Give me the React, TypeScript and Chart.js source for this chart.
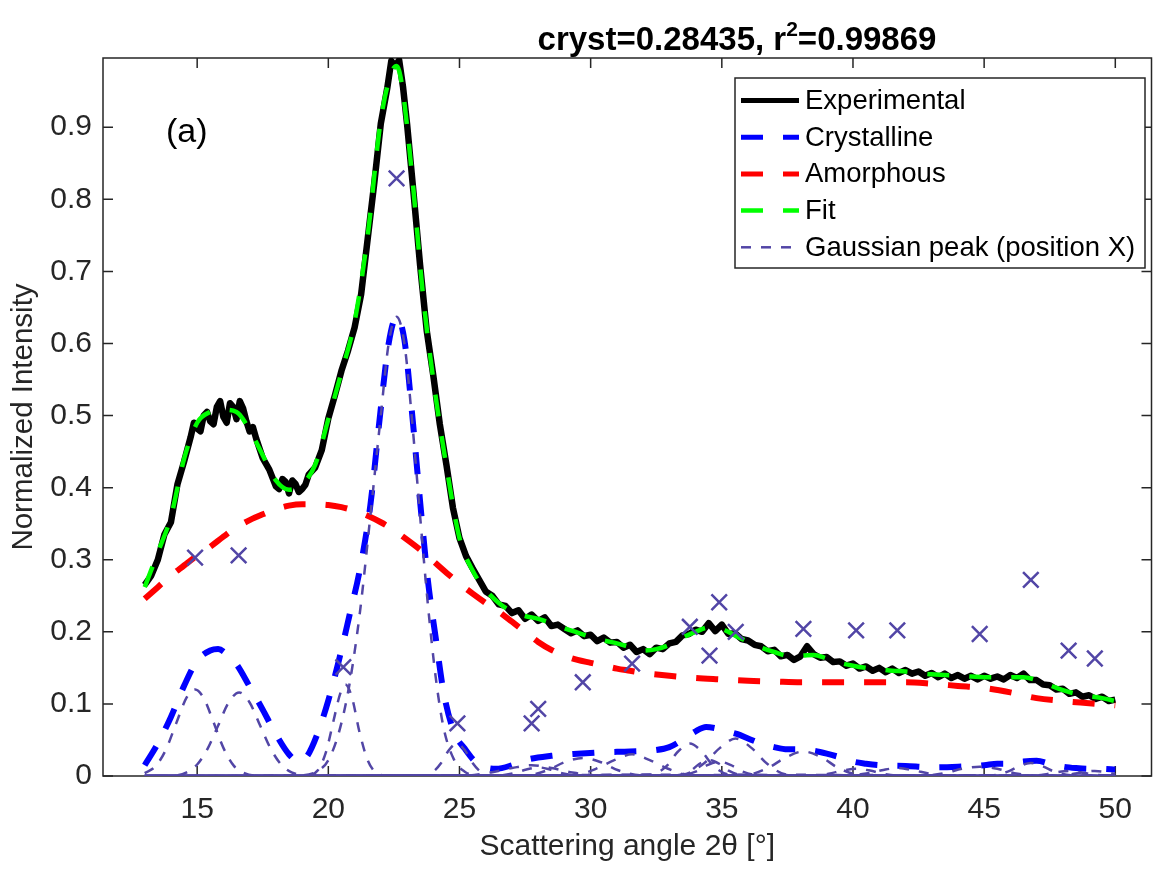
import React, { useEffect, useRef } from 'react';
import { Chart, registerables } from 'chart.js';

Chart.register(...registerables);

// ---------- data ----------
const xTickValues = [15, 20, 25, 30, 35, 40, 45, 50];
const yTickValues = [0, 0.1, 0.2, 0.3, 0.4, 0.5, 0.6, 0.7, 0.8, 0.9];
const xRange = [11.41, 51.38];
const yRange = [0, 0.996];

const titleParts = ['cryst=0.28435, r', '2', '=0.99869'];
const panelLabel = '(a)';
const xAxisTitle = 'Scattering angle 2θ [°]';
const yAxisTitle = 'Normalized Intensity';
const legendLabels = ['Experimental', 'Crystalline', 'Amorphous', 'Fit', 'Gaussian peak (position X)'];

const experimental: number[][] = [
  [13.0, 0.265], [13.25, 0.278], [13.5, 0.3], [13.75, 0.335], [14.0, 0.352], [14.25, 0.405], [14.5, 0.436],
  [14.75, 0.47], [14.875, 0.49], [15.0, 0.482], [15.125, 0.478], [15.25, 0.5], [15.375, 0.505], [15.5, 0.492],
  [15.625, 0.488], [15.75, 0.512], [15.875, 0.52], [16.0, 0.498], [16.125, 0.49], [16.25, 0.517], [16.375, 0.512],
  [16.5, 0.495], [16.625, 0.52], [16.75, 0.51], [16.875, 0.492], [17.0, 0.478], [17.125, 0.484], [17.25, 0.468],
  [17.5, 0.441], [17.75, 0.425], [18.0, 0.402], [18.125, 0.398], [18.25, 0.412], [18.375, 0.408], [18.5, 0.392],
  [18.625, 0.41], [18.75, 0.405], [18.875, 0.394], [19.0, 0.398], [19.125, 0.404], [19.25, 0.418], [19.5, 0.428],
  [19.75, 0.452], [20.0, 0.496], [20.25, 0.528], [20.5, 0.562], [20.75, 0.59], [21.0, 0.622], [21.25, 0.668],
  [21.5, 0.745], [21.75, 0.822], [22.0, 0.905], [22.25, 0.955], [22.4, 0.992], [22.55, 0.985], [22.7, 0.993],
  [22.85, 0.955], [23.0, 0.905], [23.25, 0.808], [23.5, 0.708], [23.75, 0.618], [24.0, 0.556], [24.25, 0.488],
  [24.5, 0.432], [24.75, 0.372], [25.0, 0.33], [25.25, 0.305], [25.5, 0.288], [25.75, 0.272], [26.0, 0.256],
  [26.25, 0.25], [26.5, 0.238], [26.75, 0.236], [27.0, 0.226], [27.25, 0.23], [27.5, 0.218], [27.75, 0.224],
  [28.0, 0.215], [28.25, 0.22], [28.5, 0.208], [28.75, 0.21], [29.0, 0.204], [29.25, 0.198], [29.5, 0.202],
  [29.75, 0.194], [30.0, 0.196], [30.25, 0.187], [30.5, 0.192], [30.75, 0.185], [31.0, 0.186], [31.25, 0.178],
  [31.5, 0.182], [31.75, 0.172], [32.0, 0.176], [32.25, 0.169], [32.5, 0.178], [32.75, 0.176], [33.0, 0.184],
  [33.25, 0.186], [33.5, 0.195], [33.75, 0.197], [34.0, 0.203], [34.25, 0.2], [34.5, 0.212], [34.75, 0.201],
  [35.0, 0.21], [35.25, 0.197], [35.5, 0.198], [35.75, 0.19], [36.0, 0.188], [36.25, 0.182], [36.5, 0.18],
  [36.75, 0.173], [37.0, 0.175], [37.25, 0.166], [37.5, 0.168], [37.75, 0.161], [38.0, 0.166], [38.25, 0.18],
  [38.5, 0.169], [38.75, 0.164], [39.0, 0.165], [39.25, 0.158], [39.5, 0.159], [39.75, 0.153], [40.0, 0.156],
  [40.25, 0.149], [40.5, 0.152], [40.75, 0.146], [41.0, 0.15], [41.25, 0.144], [41.5, 0.149], [41.75, 0.143],
  [42.0, 0.147], [42.25, 0.142], [42.5, 0.145], [42.75, 0.139], [43.0, 0.143], [43.25, 0.137], [43.5, 0.142],
  [43.75, 0.136], [44.0, 0.14], [44.25, 0.135], [44.5, 0.139], [44.75, 0.134], [45.0, 0.139], [45.25, 0.135],
  [45.5, 0.138], [45.75, 0.134], [46.0, 0.14], [46.25, 0.136], [46.5, 0.142], [46.75, 0.133], [47.0, 0.133],
  [47.25, 0.127], [47.5, 0.126], [47.75, 0.12], [48.0, 0.121], [48.25, 0.114], [48.5, 0.116], [48.75, 0.11],
  [49.0, 0.112], [49.25, 0.107], [49.5, 0.11], [49.75, 0.104], [50.0, 0.106],
];

const fit: number[][] = [
  [13.0, 0.262], [13.5, 0.31], [14.0, 0.36], [14.5, 0.44], [15.0, 0.49], [15.5, 0.505], [16.0, 0.508],
  [16.5, 0.505], [17.0, 0.48], [17.5, 0.445], [18.0, 0.41], [18.5, 0.397], [19.0, 0.405], [19.5, 0.432],
  [20.0, 0.495], [20.5, 0.56], [21.0, 0.63], [21.5, 0.75], [22.0, 0.91], [22.4, 0.975], [22.6, 0.985],
  [22.8, 0.96], [23.2, 0.83], [23.6, 0.67], [24.0, 0.55], [24.5, 0.43], [25.0, 0.33], [25.5, 0.285],
  [26.0, 0.258], [26.5, 0.24], [27.0, 0.228], [27.5, 0.222], [28.0, 0.218], [28.5, 0.212], [29.0, 0.205],
  [29.5, 0.199], [30.0, 0.193], [30.5, 0.188], [31.0, 0.184], [31.5, 0.179], [32.0, 0.174], [32.5, 0.176],
  [33.0, 0.182], [33.5, 0.192], [34.0, 0.2], [34.5, 0.206], [35.0, 0.204], [35.5, 0.195], [36.0, 0.186],
  [36.5, 0.178], [37.0, 0.172], [37.5, 0.167], [38.0, 0.167], [38.5, 0.168], [39.0, 0.163], [39.5, 0.157],
  [40.0, 0.153], [40.5, 0.15], [41.0, 0.148], [41.5, 0.146], [42.0, 0.145], [42.5, 0.143], [43.0, 0.141],
  [43.5, 0.14], [44.0, 0.139], [44.5, 0.138], [45.0, 0.137], [45.5, 0.137], [46.0, 0.137], [46.5, 0.137],
  [47.0, 0.133], [47.5, 0.126], [48.0, 0.119], [48.5, 0.114], [49.0, 0.111], [49.5, 0.108], [50.0, 0.104],
];

const amorphous: number[][] = [
  [13.0, 0.246], [13.5, 0.262], [14.0, 0.278], [14.5, 0.292], [15.0, 0.306], [15.5, 0.318], [16.0, 0.332],
  [16.5, 0.345], [17.0, 0.355], [17.5, 0.363], [18.0, 0.37], [18.5, 0.375], [19.0, 0.377], [19.5, 0.377],
  [20.0, 0.376], [20.5, 0.373], [21.0, 0.368], [21.5, 0.361], [22.0, 0.352], [22.5, 0.341], [23.0, 0.328],
  [23.5, 0.314], [24.0, 0.298], [24.5, 0.282], [25.0, 0.267], [25.5, 0.253], [26.0, 0.24], [26.5, 0.228],
  [27.0, 0.214], [27.5, 0.2], [28.0, 0.186], [28.5, 0.175], [29.0, 0.167], [29.5, 0.161], [30.0, 0.157],
  [30.5, 0.153], [31.0, 0.149], [31.5, 0.146], [32.0, 0.143], [33.0, 0.139], [34.0, 0.136], [35.0, 0.134],
  [36.0, 0.132], [37.0, 0.131], [38.0, 0.13], [39.0, 0.13], [40.0, 0.13], [41.0, 0.13], [42.0, 0.13],
  [43.0, 0.128], [44.0, 0.125], [45.0, 0.122], [46.0, 0.116], [47.0, 0.108], [48.0, 0.104], [49.0, 0.101],
  [50.0, 0.098],
];

const crystalline: number[][] = [
  [13.0, 0.015], [13.5, 0.045], [14.0, 0.082], [14.5, 0.125], [15.0, 0.16], [15.5, 0.174], [15.8, 0.176],
  [16.1, 0.17], [16.5, 0.155], [17.0, 0.124], [17.5, 0.092], [18.0, 0.058], [18.5, 0.03], [18.9, 0.02],
  [19.2, 0.028], [19.6, 0.06], [20.0, 0.105], [20.4, 0.16], [20.8, 0.222], [21.2, 0.286], [21.6, 0.375],
  [22.0, 0.51], [22.3, 0.6], [22.6, 0.637], [22.9, 0.605], [23.2, 0.5], [23.5, 0.38], [23.8, 0.27],
  [24.1, 0.19], [24.4, 0.115], [24.8, 0.06], [25.2, 0.038], [25.6, 0.02], [26.0, 0.012], [26.4, 0.01],
  [27.0, 0.015], [27.5, 0.022], [28.5, 0.028], [29.5, 0.031], [30.5, 0.033], [31.5, 0.034], [32.5, 0.036],
  [33.0, 0.04], [33.5, 0.05], [34.0, 0.062], [34.4, 0.068], [34.8, 0.066], [35.2, 0.062], [35.6, 0.058],
  [36.0, 0.052], [36.5, 0.045], [37.0, 0.04], [37.5, 0.037], [38.0, 0.037], [38.5, 0.035], [39.0, 0.031],
  [39.5, 0.026], [40.0, 0.02], [40.5, 0.017], [41.0, 0.015], [42.0, 0.014], [43.0, 0.012], [44.0, 0.013],
  [45.0, 0.015], [45.5, 0.017], [46.0, 0.017], [46.5, 0.02], [47.0, 0.021], [47.5, 0.017], [48.0, 0.013],
  [48.5, 0.011], [49.0, 0.01], [49.5, 0.01], [50.0, 0.009],
];

const gaussianCurves: number[][][] = [
  [[13, 0.004], [13.4, 0.013], [13.8, 0.036], [14.2, 0.073], [14.6, 0.109], [14.92, 0.12], [15.25, 0.108], [15.6, 0.077], [16.0, 0.039], [16.4, 0.014], [16.8, 0.004], [17.3, 0.0005], [50, 0]],
  [[13, 0], [14.2, 0.001], [14.6, 0.005], [15.0, 0.016], [15.4, 0.038], [15.8, 0.07], [16.2, 0.102], [16.6, 0.116], [17.0, 0.102], [17.4, 0.07], [17.8, 0.038], [18.2, 0.016], [18.6, 0.005], [19.2, 0.001], [50, 0]],
  [[13, 0], [19.0, 0], [19.3, 0.001], [19.6, 0.008], [19.9, 0.032], [20.2, 0.077], [20.45, 0.114], [20.65, 0.127], [20.9, 0.109], [21.2, 0.059], [21.5, 0.022], [21.8, 0.005], [22.1, 0.001], [50, 0]],
  [[13, 0], [19.0, 0.001], [19.6, 0.007], [20.0, 0.022], [20.4, 0.06], [20.8, 0.126], [21.2, 0.226], [21.6, 0.36], [22.0, 0.5], [22.3, 0.6], [22.6, 0.637], [22.9, 0.6], [23.2, 0.49], [23.5, 0.36], [23.8, 0.236], [24.1, 0.135], [24.4, 0.066], [24.8, 0.022], [25.2, 0.006], [25.6, 0.001], [50, 0]],
  [[13, 0], [23.7, 0.001], [24.0, 0.006], [24.3, 0.018], [24.6, 0.036], [24.9, 0.045], [25.2, 0.036], [25.5, 0.018], [25.8, 0.006], [26.1, 0.001], [50, 0]],
  [[13, 0], [25.2, 0.0006], [26.2, 0.005], [27.0, 0.011], [27.75, 0.015], [28.5, 0.011], [29.3, 0.005], [30.3, 0.0006], [50, 0]],
  [[13, 0], [26.5, 0.0006], [27.1, 0.004], [27.55, 0.009], [28.0, 0.012], [28.45, 0.009], [28.9, 0.004], [29.5, 0.0006], [50, 0]],
  [[13, 0], [27.5, 0.001], [28.35, 0.008], [29.0, 0.019], [29.7, 0.025], [30.4, 0.019], [31.05, 0.008], [31.9, 0.001], [50, 0]],
  [[13, 0], [29.4, 0.001], [30.2, 0.01], [30.9, 0.022], [31.58, 0.03], [32.25, 0.022], [32.95, 0.01], [33.8, 0.001], [50, 0]],
  [[13, 0], [32.3, 0.002], [32.9, 0.014], [33.33, 0.034], [33.78, 0.045], [34.23, 0.034], [34.68, 0.014], [35.3, 0.002], [50, 0]],
  [[13, 0], [33.3, 0.001], [33.8, 0.007], [34.15, 0.017], [34.53, 0.022], [34.9, 0.017], [35.28, 0.007], [35.8, 0.001], [50, 0]],
  [[13, 0], [33.4, 0.001], [34.0, 0.006], [34.45, 0.015], [34.9, 0.02], [35.35, 0.015], [35.8, 0.006], [36.4, 0.001], [50, 0]],
  [[13, 0], [33.5, 0.002], [34.3, 0.017], [34.93, 0.039], [35.53, 0.052], [36.13, 0.039], [36.73, 0.017], [37.5, 0.002], [50, 0]],
  [[13, 0], [35.9, 0.0015], [36.75, 0.011], [37.45, 0.026], [38.11, 0.034], [38.8, 0.026], [39.45, 0.011], [40.3, 0.0015], [50, 0]],
  [[13, 0], [38.4, 0.0005], [39.07, 0.003], [39.6, 0.0075], [40.12, 0.01], [40.65, 0.0075], [41.17, 0.003], [41.85, 0.0005], [50, 0]],
  [[13, 0], [39.7, 0.0005], [40.5, 0.0035], [41.1, 0.008], [41.69, 0.011], [42.3, 0.008], [42.9, 0.0035], [43.7, 0.0005], [50, 0]],
  [[13, 0], [42.6, 0.0005], [43.5, 0.004], [44.15, 0.01], [44.83, 0.013], [45.5, 0.01], [46.15, 0.004], [47.0, 0.0005], [50, 0]],
  [[13, 0], [45.3, 0.001], [45.9, 0.006], [46.33, 0.0135], [46.78, 0.018], [47.23, 0.0135], [47.68, 0.006], [48.3, 0.001], [50, 0]],
  [[13, 0], [46.7, 0.0003], [47.3, 0.0022], [47.77, 0.0053], [48.22, 0.007], [48.67, 0.0053], [49.12, 0.0022], [49.7, 0.0003], [50, 0]],
  [[13, 0], [47.7, 0.0003], [48.3, 0.0022], [48.77, 0.0053], [49.22, 0.007], [49.67, 0.0053], [50, 0.0025]],
];

const peakMarkers: number[][] = [
  [14.92, 0.303], [16.58, 0.306], [20.57, 0.151], [22.6, 0.829], [24.92, 0.073], [27.75, 0.073], [28.0, 0.093],
  [29.7, 0.13], [31.58, 0.156], [33.78, 0.207], [34.53, 0.167], [34.9, 0.241], [35.53, 0.2], [38.11, 0.204],
  [40.12, 0.202], [41.69, 0.202], [44.83, 0.197], [46.78, 0.272], [48.22, 0.174], [49.22, 0.163],
];

// ---------- styles ----------
const FONT = '"Liberation Sans", Arial, Helvetica, sans-serif';
const AXIS_COLOR = '#262626';
const COLORS = {
  experimental: '#000000',
  crystalline: '#0000ff',
  amorphous: '#ff0000',
  fit: '#00ff00',
  gaussian: '#5246a6',
};

const toXY = (pts: number[][]) => pts.map(([x, y]) => ({ x, y }));

const boxPlugin = {
  id: 'matlabBox',
  beforeDatasetsDraw(chart: any) {
    const { ctx, chartArea: a, scales } = chart;
    ctx.save();
    ctx.strokeStyle = AXIS_COLOR;
    ctx.lineWidth = 1.5;
    ctx.setLineDash([]);
    ctx.strokeRect(a.left, a.top, a.right - a.left, a.bottom - a.top);
    const t = 10;
    ctx.beginPath();
    xTickValues.forEach((v) => {
      const px = scales.x.getPixelForValue(v);
      ctx.moveTo(px, a.bottom);
      ctx.lineTo(px, a.bottom - t);
      ctx.moveTo(px, a.top);
      ctx.lineTo(px, a.top + t);
    });
    yTickValues.forEach((v) => {
      const py = scales.y.getPixelForValue(v);
      ctx.moveTo(a.left, py);
      ctx.lineTo(a.left + t, py);
      ctx.moveTo(a.right, py);
      ctx.lineTo(a.right - t, py);
    });
    ctx.stroke();
    ctx.restore();
  },
};

const textPlugin = {
  id: 'matlabText',
  afterDraw(chart: any) {
    const { ctx } = chart;
    ctx.save();
    const mainFont = `bold 33px ${FONT}`;
    const supFont = `bold 21px ${FONT}`;
    ctx.font = mainFont;
    const w0 = ctx.measureText(titleParts[0]).width;
    const w2 = ctx.measureText(titleParts[2]).width;
    ctx.font = supFont;
    const w1 = ctx.measureText(titleParts[1]).width;
    const total = w0 + w1 + w2;
    let x = 737 - total / 2;
    const base = 50;
    ctx.fillStyle = '#000';
    ctx.textBaseline = 'alphabetic';
    ctx.textAlign = 'left';
    ctx.font = mainFont;
    ctx.fillText(titleParts[0], x, base);
    x += w0;
    ctx.font = supFont;
    ctx.fillText(titleParts[1], x, base - 14);
    x += w1;
    ctx.font = mainFont;
    ctx.fillText(titleParts[2], x, base);
    ctx.font = `34px ${FONT}`;
    ctx.fillText(panelLabel, 166, 142);
    ctx.restore();
  },
};

const legendPlugin = {
  id: 'matlabLegend',
  afterDraw(chart: any) {
    const { ctx } = chart;
    const box = { left: 735, top: 78, right: 1145, bottom: 268 };
    ctx.save();
    ctx.fillStyle = '#ffffff';
    ctx.fillRect(box.left, box.top, box.right - box.left, box.bottom - box.top);
    ctx.strokeStyle = AXIS_COLOR;
    ctx.lineWidth = 1.5;
    ctx.setLineDash([]);
    ctx.strokeRect(box.left, box.top, box.right - box.left, box.bottom - box.top);
    legendLabels.forEach((label, i) => {
      const ds = chart.data.datasets.find((d: any) => d.label === label);
      if (!ds) return;
      const y = 100.5 + i * 36.7;
      ctx.beginPath();
      ctx.setLineDash(ds.borderDash || []);
      ctx.lineDashOffset = 0;
      ctx.lineWidth = Math.min(ds.borderWidth, 5);
      ctx.strokeStyle = ds.borderColor;
      ctx.lineCap = 'butt';
      ctx.moveTo(741, y);
      ctx.lineTo(799, y);
      ctx.stroke();
      ctx.setLineDash([]);
      ctx.fillStyle = '#000';
      ctx.font = `27.5px ${FONT}`;
      ctx.textBaseline = 'middle';
      ctx.textAlign = 'left';
      ctx.fillText(label, 805, y + 1);
    });
    ctx.restore();
  },
};

export default function App() {
  const canvasRef = useRef<HTMLCanvasElement | null>(null);

  useEffect(() => {
    const canvas = canvasRef.current;
    if (!canvas) return;

    const lineBase = {
      pointRadius: 0,
      fill: false,
      borderCapStyle: 'butt',
      borderJoinStyle: 'round',
    };

    const datasets: any[] = [];
    datasets.push({
      label: 'Peak positions',
      data: toXY(peakMarkers),
      showLine: false,
      pointStyle: 'crossRot',
      pointRadius: 11,
      pointBorderWidth: 2.5,
      pointBorderColor: COLORS.gaussian,
      pointBackgroundColor: COLORS.gaussian,
      borderColor: COLORS.gaussian,
    });
    gaussianCurves.forEach((curve, i) => {
      datasets.push({
        ...lineBase,
        label: i === 0 ? legendLabels[4] : `Gaussian peak ${i + 1}`,
        data: toXY(curve),
        borderColor: COLORS.gaussian,
        borderWidth: 2.5,
        borderDash: [10, 10],
        borderDashOffset: (i * 7) % 20,
        cubicInterpolationMode: 'monotone',
      });
    });
    datasets.push({
      ...lineBase,
      label: legendLabels[3],
      data: toXY(fit),
      borderColor: COLORS.fit,
      borderWidth: 4.5,
      borderDash: [22, 20],
      cubicInterpolationMode: 'monotone',
    });
    datasets.push({
      ...lineBase,
      label: legendLabels[2],
      data: toXY(amorphous),
      borderColor: COLORS.amorphous,
      borderWidth: 6,
      borderDash: [22, 20],
      cubicInterpolationMode: 'monotone',
    });
    datasets.push({
      ...lineBase,
      label: legendLabels[1],
      data: toXY(crystalline),
      borderColor: COLORS.crystalline,
      borderWidth: 6,
      borderDash: [22, 20],
      cubicInterpolationMode: 'monotone',
    });
    datasets.push({
      ...lineBase,
      label: legendLabels[0],
      data: toXY(experimental),
      borderColor: COLORS.experimental,
      borderWidth: 6.5,
      tension: 0,
    });

    const chart = new Chart(canvas, {
      type: 'line',
      data: { datasets },
      options: {
        responsive: false,
        animation: false,
        devicePixelRatio: 1,
        layout: { padding: { top: 58, right: 1, left: 0, bottom: 0 } },
        plugins: {
          legend: { display: false },
          tooltip: { enabled: false },
          title: { display: false },
        },
        scales: {
          x: {
            type: 'linear',
            min: xRange[0],
            max: xRange[1],
            grid: { display: false, drawTicks: false },
            border: { display: false },
            afterBuildTicks: (s: any) => {
              s.ticks = xTickValues.map((v) => ({ value: v }));
            },
            afterFit: (s: any) => {
              s.height = 94;
            },
            ticks: {
              padding: 16,
              color: AXIS_COLOR,
              autoSkip: false,
              maxRotation: 0,
              font: { family: FONT, size: 30 },
              callback: (v: any) => String(v),
            },
            title: {
              display: true,
              text: xAxisTitle,
              color: AXIS_COLOR,
              font: { family: FONT, size: 30 },
              padding: { top: 0, bottom: 5 },
            },
          },
          y: {
            type: 'linear',
            min: yRange[0],
            max: yRange[1],
            grid: { display: false, drawTicks: false },
            border: { display: false },
            afterBuildTicks: (s: any) => {
              s.ticks = yTickValues.map((v) => ({ value: v }));
            },
            afterFit: (s: any) => {
              s.width = 103;
            },
            ticks: {
              padding: 11,
              color: AXIS_COLOR,
              autoSkip: false,
              font: { family: FONT, size: 30 },
              callback: (v: any) => (v === 0 ? '0' : Number(v).toFixed(1)),
            },
            title: {
              display: true,
              text: yAxisTitle,
              color: AXIS_COLOR,
              font: { family: FONT, size: 29.5 },
              padding: { top: 6, bottom: 0 },
            },
          },
        },
      },
      plugins: [boxPlugin, textPlugin, legendPlugin],
    } as any);

    return () => chart.destroy();
  }, []);

  return (
    <div style={{ position: 'absolute', left: 0, top: 0, width: 1165, height: 870, background: '#fff' }}>
      <canvas ref={canvasRef} width={1165} height={870} style={{ display: 'block' }} />
    </div>
  );
}
